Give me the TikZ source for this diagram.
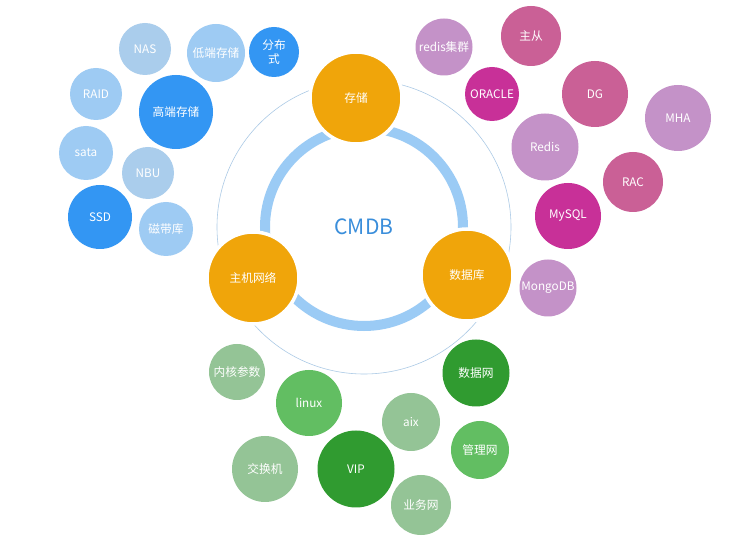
\documentclass[tikz,border=0pt]{standalone}
\usepackage{fontspec}
\setmainfont{Noto Sans CJK SC}
\usetikzlibrary{positioning}

\definecolor{hubOrange}{RGB}{240,165,10}
\definecolor{ringBlue}{RGB}{155,203,245}
\definecolor{thinBlue}{RGB}{172,202,230}
\definecolor{titleBlue}{RGB}{58,142,219}
\definecolor{blueDark}{RGB}{51,150,243}
\definecolor{blueLight}{RGB}{158,203,243}
\definecolor{blueGrey}{RGB}{170,205,236}
\definecolor{purpleLight}{RGB}{196,146,200}
\definecolor{rose}{RGB}{202,96,150}
\definecolor{magenta}{RGB}{200,48,152}
\definecolor{greenGrey}{RGB}{148,196,150}
\definecolor{greenMid}{RGB}{98,190,98}
\definecolor{greenDark}{RGB}{48,155,48}

\begin{document}
\begin{tikzpicture}[
    x=0.03cm,
    y=-0.03cm,
    font=\fontsize{10}{12}\selectfont,
    every node/.style={align=center},
    bubble/.style={circle, inner sep=0pt, text=white, minimum size=#1*0.06cm},
    hub/.style={bubble=46, fill=hubOrange, draw=white, line width=3pt}
]

\useasboundingbox[fill=white] (0,0) rectangle (745,541);

% Centre and rings
\coordinate (center) at (364,227);
\draw[thinBlue, line width=0.5pt] (center) circle[radius=147*0.03cm];
\draw[ringBlue, line width=0.3cm] (center) circle[radius=99*0.03cm];
\node[text=titleBlue, font=\fontsize{18}{20}\selectfont] (cmdb) at (center) {CMDB};

% Main groups
\node[hub] (storage) at (356,98) {存储};
\node[hub] (host) at (253,278) {主机网络};
\node[hub] (database) at (467,275) {数据库};

% Storage
\node[bubble=26, fill=blueGrey] (nas) at (145,49) {NAS};
\node[bubble=29, fill=blueLight] (lowend) at (216,53) {低端存储};
\node[bubble=25, fill=blueDark] (distrib) at (274,52) {分布\\式};
\node[bubble=26, fill=blueLight] (raid) at (96,94) {RAID};
\node[bubble=37, fill=blueDark] (highend) at (176,112) {高端存储};
\node[bubble=27, fill=blueLight] (sata) at (86,153) {sata};
\node[bubble=26, fill=blueGrey] (nbu) at (148,173) {NBU};
\node[bubble=32, fill=blueDark] (ssd) at (100,217) {SSD};
\node[bubble=27, fill=blueLight] (tape) at (166,229) {磁带库};

% Database
\node[bubble=28.5, fill=purpleLight] (rediscluster) at (444,47) {redis集群};
\node[bubble=30, fill=rose] (masterslave) at (531,36) {主从};
\node[bubble=27, fill=magenta] (oracle) at (492,94) {ORACLE};
\node[bubble=33, fill=rose] (dg) at (595,94) {DG};
\node[bubble=33, fill=purpleLight] (mha) at (678,118) {MHA};
\node[bubble=33.5, fill=purpleLight] (redis) at (545,147) {Redis};
\node[bubble=30, fill=rose] (rac) at (633,182) {RAC};
\node[bubble=33, fill=magenta] (mysql) at (568,216) {MySQL};
\node[bubble=28.5, fill=purpleLight] (mongo) at (548,288) {MongoDB};

% Host and network
\node[bubble=28, fill=greenGrey] (kernel) at (237,372) {内核参数};
\node[bubble=33, fill=greenMid] (linux) at (309,403) {linux};
\node[bubble=33.5, fill=greenDark] (datanet) at (476,373) {数据网};
\node[bubble=29, fill=greenGrey] (aix) at (411,422) {aix};
\node[bubble=33, fill=greenGrey] (switch) at (265,469) {交换机};
\node[bubble=38.5, fill=greenDark] (vip) at (356,469) {VIP};
\node[bubble=29, fill=greenMid] (mgmtnet) at (480,450) {管理网};
\node[bubble=30, fill=greenGrey] (bizNet) at (421,505) {业务网};

\end{tikzpicture}
\end{document}
